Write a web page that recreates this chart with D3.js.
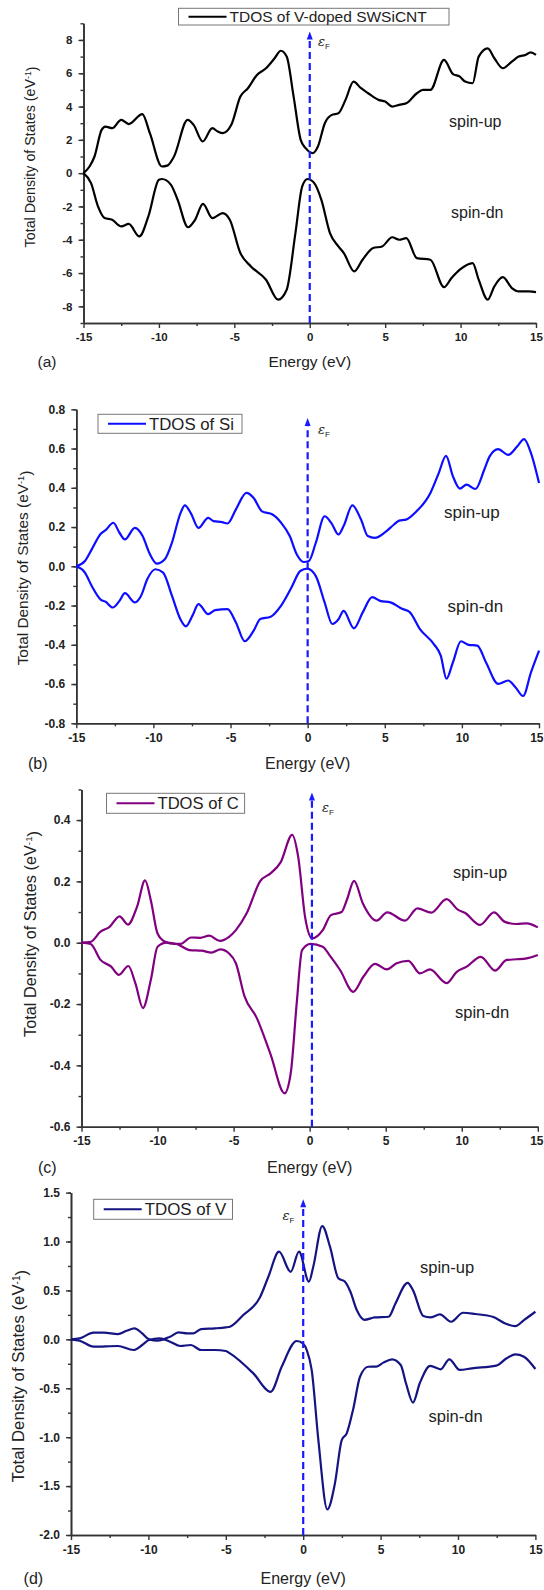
<!DOCTYPE html>
<meta charset="utf-8">
<script src="https://cdn.jsdelivr.net/npm/d3@7"></script>
<style>
  body { margin: 0; background: #fff; }
  text { font-family: "Liberation Sans", Arial, sans-serif; fill: #222; }
</style>
<div id="chart"></div>
<script>

// energy axis, shared by all four panels
var energyTicks = [-15, -10, -5, 0, 5, 10, 15]
var energyMinor = [-12.5, -7.5, -2.5, 2.5, 7.5, 12.5]

// (a) TDOS of V-doped SWSiCNT  [energy eV, DOS]
var aUp = [[-15,0],[-14.6,0.4],[-14.27,1.0],[-13.8,2.6],[-13.55,2.8],[-13.1,2.7],[-12.5,3.2],[-12.0,2.95],[-11.1,3.55],
  [-10.6,2.4],[-9.8,0.4],[-9.45,0.45],[-9.0,1.0],[-8.1,3.2],[-7.7,2.9],[-7.1,1.9],[-6.46,2.7],[-6.1,2.5],[-5.77,2.4],
  [-5.2,2.9],[-4.6,4.6],[-4.1,5.1],[-3.5,5.9],[-2.9,6.3],[-2.33,6.9],[-1.92,7.35],[-1.53,7.0],[-1.07,4.6],[-0.6,2.0],
  [-0.27,1.5],[0.2,1.2],[0.54,1.6],[1.0,3.0],[1.46,3.5],[1.9,3.6],[2.37,4.4],[2.9,5.5],[3.4,5.1],[3.87,4.8],[4.56,4.4],
  [5.0,4.3],[5.47,4.0],[5.93,4.1],[6.4,4.2],[7.1,4.8],[7.5,5.0],[8.0,5.0],[8.9,6.8],[9.5,5.95],[9.95,5.8],[10.3,5.5],
  [10.8,5.4],[11.2,7.0],[11.8,7.5],[12.24,6.9],[12.8,6.3],[13.4,6.7],[13.85,7.0],[14.3,7.1],[14.65,7.25],[15,7.1]]
var aDn = [[-15,0],[-14.5,-0.6],[-14.04,-2.0],[-13.6,-2.7],[-13.1,-2.8],[-12.5,-3.2],[-12.0,-3.05],[-11.3,-3.8],
  [-10.7,-2.6],[-10.0,-0.4],[-9.8,-0.35],[-9.2,-0.7],[-8.76,-1.6],[-8.07,-3.25],[-7.6,-2.8],[-7.08,-1.85],[-6.46,-2.7],
  [-5.77,-2.4],[-5.3,-2.8],[-4.6,-4.8],[-3.9,-5.6],[-2.9,-6.4],[-2.1,-7.6],[-1.53,-7.0],[-0.95,-3.6],[-0.5,-0.8],
  [-0.15,-0.35],[0.3,-0.6],[0.77,-1.6],[1.34,-3.6],[1.9,-4.4],[2.26,-4.8],[2.95,-5.9],[3.5,-5.2],[4.2,-4.5],[4.8,-4.4],
  [5.47,-3.85],[5.93,-4.0],[6.4,-3.9],[7.1,-5.1],[8.0,-5.2],[8.9,-6.85],[9.4,-6.3],[9.95,-5.8],[10.8,-5.4],[11.2,-6.4],
  [11.8,-7.6],[12.24,-6.8],[12.8,-6.25],[13.4,-6.9],[13.85,-7.1],[14.54,-7.1],[15,-7.15]]
var aTicks = [-8, -6, -4, -2, 0, 2, 4, 6, 8]

// (b) TDOS of Si
var bUp = [[-15,0],[-14.44,0.027],[-14.0,0.086],[-13.4,0.167],[-13.1,0.184],[-12.6,0.222],[-12.2,0.171],[-11.85,0.137],
  [-11.2,0.196],[-10.7,0.154],[-10.27,0.069],[-9.78,0.014],[-9.26,0.036],[-8.8,0.12],[-8.25,0.27],[-7.96,0.31],
  [-7.57,0.27],[-7.08,0.196],[-6.45,0.247],[-6.1,0.23],[-5.55,0.225],[-5.2,0.218],[-4.65,0.29],[-3.97,0.374],
  [-3.5,0.348],[-2.96,0.28],[-2.28,0.264],[-1.72,0.222],[-1.16,0.154],[-0.71,0.061],[-0.26,0.022],[0.08,0.027],
  [0.53,0.12],[1.1,0.255],[1.54,0.22],[2.0,0.162],[2.33,0.205],[2.9,0.31],[3.46,0.238],[3.9,0.154],[4.36,0.145],
  [5.03,0.174],[5.6,0.213],[5.93,0.233],[6.38,0.238],[7.06,0.28],[7.96,0.374],[8.5,0.475],[8.97,0.563],[9.42,0.458],
  [9.87,0.396],[10.3,0.416],[10.88,0.394],[11.45,0.492],[11.8,0.56],[12.35,0.597],[13.0,0.568],[13.58,0.61],
  [14.03,0.648],[14.48,0.577],[15,0.425]]
var bDn = [[-15,0],[-14.44,-0.032],[-14.0,-0.1],[-13.4,-0.171],[-13.1,-0.181],[-12.64,-0.21],[-12.2,-0.176],
  [-11.85,-0.137],[-11.2,-0.184],[-10.8,-0.15],[-10.4,-0.066],[-9.87,-0.015],[-9.37,-0.032],[-8.8,-0.15],[-8.25,-0.27],
  [-7.9,-0.306],[-7.46,-0.25],[-7.08,-0.193],[-6.45,-0.244],[-6.0,-0.223],[-5.2,-0.218],[-4.65,-0.286],[-4.08,-0.382],
  [-3.5,-0.328],[-3.07,-0.269],[-2.4,-0.257],[-1.72,-0.2],[-1.05,-0.108],[-0.48,-0.024],[-0.03,-0.012],[0.53,-0.05],
  [1.1,-0.184],[1.6,-0.294],[2.0,-0.27],[2.33,-0.227],[3.0,-0.316],[3.57,-0.235],[4.18,-0.157],[4.7,-0.176],
  [5.37,-0.184],[6.16,-0.218],[6.6,-0.232],[7.28,-0.32],[8.18,-0.396],[8.63,-0.455],[9.0,-0.573],[9.42,-0.489],
  [9.94,-0.382],[10.43,-0.4],[11.0,-0.404],[11.56,-0.489],[12.35,-0.599],[13.0,-0.582],[13.47,-0.616],[13.97,-0.661],
  [14.48,-0.54],[15,-0.43]]
var bTicks = [-0.8, -0.6, -0.4, -0.2, 0, 0.2, 0.4, 0.6, 0.8]

// (c) TDOS of C
var cUp = [[-15,0],[-14.4,0.003],[-13.75,0.036],[-13.15,0.052],[-12.5,0.086],[-11.95,0.059],[-11.35,0.117],
  [-10.82,0.203],[-10.44,0.138],[-10.0,0.03],[-9.5,0.003],[-8.9,-0.004],[-8.5,-0.004],[-7.8,0.017],[-7.2,0.016],
  [-6.6,0.023],[-5.9,0.006],[-5.3,0.019],[-4.85,0.041],[-4.15,0.095],[-3.25,0.201],[-2.55,0.227],[-1.9,0.263],
  [-1.15,0.352],[-0.75,0.279],[-0.3,0.084],[0.17,0.014],[0.86,0.041],[1.4,0.09],[2.1,0.1],[2.45,0.14],[2.92,0.202],
  [3.5,0.128],[4.4,0.072],[5.1,0.099],[6.27,0.072],[7.08,0.112],[8.0,0.098],[9.0,0.142],[9.77,0.107],[10.2,0.098],
  [11.2,0.058],[12.12,0.099],[12.84,0.068],[13.6,0.061],[14.27,0.063],[15,0.05]]
var cDn = [[-15,0],[-14.4,-0.004],[-13.75,-0.056],[-13.05,-0.078],[-12.54,-0.105],[-11.92,-0.076],[-11.46,-0.132],
  [-10.96,-0.213],[-10.44,-0.121],[-10.0,-0.013],[-9.4,0.0],[-8.7,-0.005],[-7.9,-0.024],[-7.1,-0.026],[-6.45,-0.032],
  [-5.87,-0.022],[-5.3,-0.035],[-4.85,-0.067],[-4.28,-0.175],[-3.48,-0.245],[-2.57,-0.364],[-1.65,-0.491],
  [-1.24,-0.424],[-0.85,-0.197],[-0.5,-0.024],[0.06,-0.004],[0.86,-0.013],[1.34,-0.043],[2.0,-0.089],[2.87,-0.16],
  [3.53,-0.111],[4.3,-0.069],[5.07,-0.087],[5.72,-0.067],[6.49,-0.059],[7.26,-0.1],[7.91,-0.087],[9.0,-0.132],
  [9.67,-0.095],[10.33,-0.078],[11.25,-0.046],[12.19,-0.091],[12.96,-0.056],[13.6,-0.054],[14.27,-0.051],[15,-0.04]]
var cTicks = [-0.6, -0.4, -0.2, 0, 0.2, 0.4]

// (d) TDOS of V
var dUp = [[-15,0],[-14.44,0.01],[-13.54,0.068],[-12.87,0.068],[-11.97,0.054],[-11.41,0.088],[-10.9,0.112],
  [-10.4,0.061],[-9.96,0],[-9.4,-0.014],[-8.6,0.027],[-8.05,0.071],[-7.49,0.061],[-7.09,0.061],[-6.6,0.105],
  [-5.7,0.112],[-5.0,0.122],[-4.73,0.129],[-3.87,0.248],[-2.79,0.43],[-2.25,0.64],[-1.56,0.896],[-0.81,0.69],
  [-0.27,0.896],[0.37,0.589],[0.65,0.742],[1.23,1.158],[1.73,0.947],[2.27,0.624],[2.7,0.589],[3.05,0.486],[3.46,0.3],
  [3.95,0.2],[4.62,0.224],[5.52,0.231],[5.96,0.367],[6.75,0.578],[7.09,0.503],[7.76,0.238],[8.21,0.224],[8.83,0.255],
  [9.55,0.18],[10.33,0.272],[11.12,0.259],[12.24,0.231],[13.14,0.156],[13.7,0.136],[14.26,0.197],[15,0.282]]
var dDn = [[-15,0],[-14.44,-0.014],[-13.54,-0.075],[-11.97,-0.068],[-10.96,-0.109],[-10.4,-0.058],[-9.96,-0.007],
  [-9.28,0.01],[-8.6,-0.024],[-7.94,-0.068],[-7.26,-0.058],[-6.6,-0.109],[-5.7,-0.109],[-5.0,-0.119],[-4.73,-0.143],
  [-3.22,-0.348],[-2.1,-0.536],[-1.39,-0.28],[-0.42,-0.017],[0.0,-0.045],[0.23,-0.109],[0.55,-0.314],[0.98,-1.03],
  [1.56,-1.738],[2.05,-1.472],[2.49,-1.03],[2.81,-0.961],[3.24,-0.706],[3.67,-0.382],[4.2,-0.28],[4.73,-0.279],
  [5.18,-0.238],[5.74,-0.204],[6.3,-0.262],[6.64,-0.449],[7.09,-0.646],[7.53,-0.449],[8.21,-0.272],[8.88,-0.306],
  [9.44,-0.204],[10.11,-0.313],[10.9,-0.296],[12.47,-0.269],[13.14,-0.194],[13.7,-0.153],[14.26,-0.177],[15,-0.303]]
var dTicks = [-2.0, -1.5, -1.0, -0.5, 0, 0.5, 1.0, 1.5]

// panel layout (pixels) - built from the arrays above
var panels = [
  { tag: "(a)", name: "TDOS of V-doped SWSiCNT", color: "#000000", up: aUp, dn: aDn, ticks: aTicks, minorStep: 1, dec: 0,
    yDomain: [-9, 9], left: 83.5, right: 536, top: 23.3, bottom: 323, fermi: 0, arrowTop: 31.5,
    legend: [178.5, 8.3, 449, 25, 15.5], epsX: 318, epsY: 46, ylabX: 29.5, ylabY: 157, ylabSize: 14.3,
    xlabY: 367, tagX: 37.5, tickSize: 11.5, labSize: 15.5, upLab: [449, 127], dnLab: [451, 218], spinSize: 16 },
  { tag: "(b)", name: "TDOS of Si", color: "#0d0dff", up: bUp, dn: bDn, ticks: bTicks, minorStep: 0.1, dec: 1,
    yDomain: [-0.8, 0.8], left: 76.3, right: 539, top: 409.3, bottom: 723.3, fermi: 0, arrowTop: 418,
    legend: [98, 414.3, 242, 433.3, 16.8], epsX: 318, epsY: 434, ylabX: 22.5, ylabY: 568, ylabSize: 15.4,
    xlabY: 769, tagX: 28, tickSize: 12, labSize: 16, upLab: [444, 517.5], dnLab: [447.5, 612], spinSize: 17 },
  { tag: "(c)", name: "TDOS of C", color: "#800080", up: cUp, dn: cDn, ticks: cTicks, minorStep: 0.1, dec: 1,
    yDomain: [-0.6, 0.5], left: 81.5, right: 537.8, top: 789.4, bottom: 1126.7, fermi: 0.15, arrowTop: 792.5,
    legend: [106.5, 793.3, 244.6, 813.3, 16.6], epsX: 322, epsY: 812, ylabX: 30.5, ylabY: 934, ylabSize: 16.3,
    xlabY: 1172.5, tagX: 38, tickSize: 12, labSize: 16, upLab: [453, 877.5], dnLab: [455, 1017.5], spinSize: 16.5 },
  { tag: "(d)", name: "TDOS of V", color: "#141482", up: dUp, dn: dDn, ticks: dTicks, minorStep: 0.25, dec: 1,
    yDomain: [-2, 1.5], left: 71, right: 535.4, top: 1192.6, bottom: 1535, fermi: 0, arrowTop: 1199.3,
    legend: [93.7, 1199.3, 232.5, 1219.3, 16.9], epsX: 282.5, epsY: 1220, ylabX: 18, ylabY: 1376, ylabSize: 16.8,
    xlabY: 1584, tagX: 23.6, tickSize: 12, labSize: 16, upLab: [420, 1273], dnLab: [428.5, 1421.5], spinSize: 16.5 }
]

var svg = d3.select("#chart").append("svg")
  .attr("width", 544)
  .attr("height", 1590)

var axisColor = "#333"
var arrowColor = "#1a1aff"

panels.forEach(function(p) {
  var x = d3.scaleLinear().domain([-15, 15]).range([p.left, p.right])
  var y = d3.scaleLinear().domain(p.yDomain).range([p.bottom, p.top])
  var g = svg.append("g")

  // minor ticks first, then major ticks with labels
  var yMinor = d3.range(p.yDomain[0], p.yDomain[1] + 1e-9, p.minorStep)
    .map(function(v){ return +v.toFixed(3) })
  g.append("g").attr("transform", "translate(0," + p.bottom + ")")
    .call(d3.axisBottom(x).tickValues(energyMinor).tickSize(3).tickSizeOuter(0).tickFormat(""))
  g.append("g").attr("transform", "translate(" + p.left + ",0)")
    .call(d3.axisLeft(y).tickValues(yMinor).tickSize(3).tickSizeOuter(0).tickFormat(""))

  var xAxis = g.append("g").attr("transform", "translate(0," + p.bottom + ")")
    .call(d3.axisBottom(x).tickValues(energyTicks).tickSize(5).tickSizeOuter(0).tickPadding(5)
      .tickFormat(function(d){ return String(d) }))
  var yAxis = g.append("g").attr("transform", "translate(" + p.left + ",0)")
    .call(d3.axisLeft(y).tickValues(p.ticks).tickSize(5).tickSizeOuter(0).tickPadding(6)
      .tickFormat(function(d){ return d.toFixed(p.dec) }))

  g.selectAll(".domain").attr("stroke", axisColor).attr("stroke-width", 1.6)
  g.selectAll(".tick line").attr("stroke", axisColor).attr("stroke-width", 1.4)
  g.selectAll(".tick text")
    .style("font-family", "'Liberation Sans', Arial, sans-serif")
    .style("font-size", p.tickSize + "px")
    .style("font-weight", "bold")
    .attr("fill", "#333")

  // keep the last energy label inside the page
  xAxis.selectAll(".tick text").each(function(d) {
    var w = this.getComputedTextLength()
    var over = x(d) + w / 2 - 543
    if (over > 0) d3.select(this).attr("dx", -over)
  })

  // the two spin channels
  var line = d3.line()
    .x(function(d){ return x(d[0]) })
    .y(function(d){ return y(d[1]) })
    .curve(d3.curveMonotoneX)
  ;[p.up, p.dn].forEach(function(series) {
    g.append("path")
      .datum(series)
      .attr("d", line)
      .attr("fill", "none")
      .attr("stroke", p.color)
      .attr("stroke-width", 2.2)
      .attr("stroke-linejoin", "round")
  })

  // Fermi level: dashed arrow
  var fx = x(p.fermi)
  g.append("line")
    .attr("x1", fx).attr("x2", fx)
    .attr("y1", p.bottom).attr("y2", p.arrowTop + 6)
    .attr("stroke", arrowColor)
    .attr("stroke-width", 2.2)
    .attr("stroke-dasharray", "7,4")
  g.append("path")
    .attr("d", "M" + fx + "," + p.arrowTop + "L" + (fx - 3) + "," + (p.arrowTop + 8) + "L" + (fx + 3) + "," + (p.arrowTop + 8) + "Z")
    .attr("fill", arrowColor)
  var eps = g.append("text")
    .attr("x", p.epsX).attr("y", p.epsY)
    .style("font-size", "13px")
    .attr("fill", "#555")
  eps.append("tspan").text("ε").style("font-style", "italic").style("font-family", "'DejaVu Serif', serif")
  eps.append("tspan").text("F").attr("dy", 3).style("font-size", "8px")

  // legend box
  var L = p.legend
  g.append("rect")
    .attr("x", L[0]).attr("y", L[1])
    .attr("width", L[2] - L[0]).attr("height", L[3] - L[1])
    .attr("fill", "#fff").attr("stroke", "#777").attr("stroke-width", 1)
  var midY = (L[1] + L[3]) / 2
  g.append("line")
    .attr("x1", L[0] + 10).attr("x2", L[0] + 48)
    .attr("y1", midY).attr("y2", midY)
    .attr("stroke", p.color).attr("stroke-width", 2)
  g.append("text")
    .attr("x", L[0] + 51).attr("y", midY)
    .attr("dy", "0.36em")
    .style("font-size", L[4] + "px")
    .text(p.name)

  // spin labels
  g.append("text").attr("x", p.upLab[0]).attr("y", p.upLab[1])
    .style("font-size", p.spinSize + "px").text("spin-up")
  g.append("text").attr("x", p.dnLab[0]).attr("y", p.dnLab[1])
    .style("font-size", p.spinSize + "px").text("spin-dn")

  // axis titles
  var yl = g.append("text")
    .attr("transform", "translate(" + p.ylabX + "," + p.ylabY + ") rotate(-90)")
    .attr("text-anchor", "middle")
    .attr("dy", "0.36em")
    .style("font-size", p.ylabSize + "px")
  yl.append("tspan").text("Total Density of States (eV")
  yl.append("tspan").text("-1").attr("dy", "-0.45em").style("font-size", (p.ylabSize * 0.6) + "px")
  yl.append("tspan").text(")").attr("dy", "0.45em")

  g.append("text")
    .attr("x", x(0)).attr("y", p.xlabY)
    .attr("text-anchor", "middle")
    .style("font-size", p.labSize + "px")
    .text("Energy (eV)")
  g.append("text")
    .attr("x", p.tagX).attr("y", p.xlabY)
    .style("font-size", p.labSize + "px")
    .text(p.tag)
})

</script>
